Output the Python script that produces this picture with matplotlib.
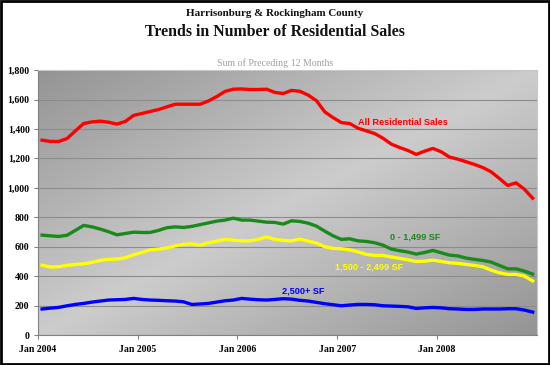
import numpy as np
from matplotlib import pyplot as plt

# monthly, Jan 2004 .. Dec 2008 (sum of preceding 12 months)
YEARS = ["2004", "2005", "2006", "2007", "2008"]

all_sales = [
    1324, 1315, 1315, 1335, 1387, 1437, 1448, 1453, 1446, 1433, 1451, 1492,
    1505, 1519, 1532, 1550, 1568, 1568, 1568, 1568, 1590, 1620, 1655, 1670,
    1672, 1668, 1668, 1670, 1648, 1641, 1662, 1656, 1630, 1592, 1516, 1477,
    1443, 1437, 1405, 1387, 1369, 1337, 1297, 1274, 1254, 1227, 1249, 1268,
    1245, 1209, 1195, 1177, 1159, 1138, 1109, 1064, 1016, 1034, 991, 930,
]
small_sf = [
    679, 674, 670, 678, 711, 745, 735, 720, 702, 681, 690, 699,
    697, 697, 711, 729, 735, 731, 738, 750, 762, 774, 781, 794,
    781, 781, 774, 767, 765, 754, 776, 772, 760, 740, 706, 674,
    650, 654, 640, 636, 627, 611, 584, 573, 564, 550, 561, 575,
    559, 543, 538, 523, 514, 507, 496, 473, 450, 450, 435, 414,
]
mid_sf = [
    475, 462, 464, 473, 480, 484, 494, 507, 514, 516, 525, 545,
    561, 579, 584, 591, 606, 616, 620, 610, 627, 638, 650, 645,
    640, 640, 650, 667, 650, 643, 640, 652, 638, 625, 600, 589,
    586, 579, 565, 548, 541, 541, 530, 521, 511, 500, 502, 509,
    500, 491, 487, 480, 473, 464, 441, 423, 412, 412, 401, 368,
]
large_sf = [
    177, 183, 188, 199, 208, 215, 224, 231, 238, 240, 242, 249,
    242, 238, 236, 233, 231, 226, 208, 211, 215, 224, 233, 238,
    249, 244, 240, 238, 242, 247, 244, 236, 231, 222, 213, 206,
    199, 204, 208, 208, 206, 199, 197, 195, 192, 181, 185, 188,
    185, 179, 177, 174, 174, 177, 177, 177, 179, 179, 170, 156,
]

SERIES = [
    (all_sales, "#ff0000", "All Residential Sales", 43.4, 1446),
    (small_sf, "#1a8a1a", "0 - 1,499 SF", 44.9, 667),
    (mid_sf, "#ffff00", "1,500 - 2,499 SF", 39.3, 462),
    (large_sf, "#0000ff", "2,500+ SF", 31.4, 301),
]

fig = plt.figure(figsize=(5.5, 3.65), dpi=100)
ax = fig.add_axes([0.069, 0.082, 0.907, 0.726])

# diagonal gradient background of the plot area
gx, gy = np.meshgrid(np.linspace(0, 1, 200), np.linspace(1, 0, 150))
shade = 0.80 - 0.22 * np.abs(gx - gy)
ax.imshow(shade, cmap="gray", vmin=0, vmax=1, extent=(0, 1, 0, 1),
          transform=ax.transAxes, aspect="auto", zorder=0, interpolation="bilinear")

x = np.arange(len(all_sales))
for values, color, label, lx, ly in SERIES:
    ax.plot(x, values, color=color, lw=2.4, solid_joinstyle="round", zorder=3)
    ax.text(lx, ly, label, color=color, fontsize=6.6, fontweight="bold",
            family="Liberation Sans", ha="center", va="center", zorder=4)

ax.set_xlim(-0.5, len(all_sales) - 0.5)
ax.set_ylim(0, 1800)
ax.set_yticks(range(0, 1801, 200))
ax.set_yticklabels([f"{v:,}" for v in range(0, 1801, 200)],
                   family="Liberation Serif", fontsize=7, fontweight="bold")
ax.set_xticks([12 * i - 0.5 for i in range(len(YEARS))])
ax.set_xticklabels([f"Jan {y}" for y in YEARS],
                   family="Liberation Serif", fontsize=7, fontweight="bold")
ax.tick_params(axis="both", length=3, color="#808080", pad=3)
ax.tick_params(axis="x", pad=4)
ax.grid(axis="y", color="#8c8c8c", lw=0.8, zorder=1)
ax.set_axisbelow(True)
for side in ("top", "right"):
    ax.spines[side].set_color("#c8c8c8")
for side in ("left", "bottom"):
    ax.spines[side].set_color("#808080")

fig.text(0.5, 0.962, "Harrisonburg & Rockingham County", ha="center", va="center",
         family="Liberation Serif", fontsize=7.9, fontweight="bold", color="#111111")
fig.text(0.5, 0.912, "Trends in Number of Residential Sales", ha="center", va="center",
         family="Liberation Serif", fontsize=11.4, fontweight="bold", color="#111111")
fig.text(0.5, 0.827, "Sum of Preceding 12 Months", ha="center", va="center",
         family="Liberation Serif", fontsize=7.1, color="#a0a0a0")

# outer frame
fig.patches.append(plt.Rectangle((0.002, 0.003), 0.996, 0.994, transform=fig.transFigure,
                                 fill=False, edgecolor="black", lw=2))

fig.savefig("out.png", dpi=100)
